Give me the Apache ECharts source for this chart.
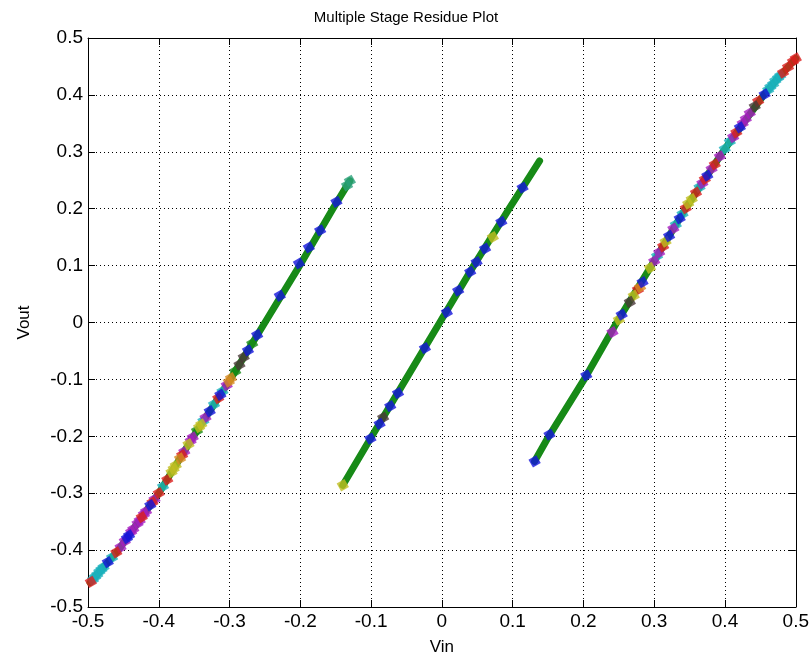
<!DOCTYPE html>
<html>
<head>
<meta charset="utf-8">
<title>Multiple Stage Residue Plot</title>
<script src="https://cdn.jsdelivr.net/npm/echarts@6/dist/echarts.min.js"></script>
<style>
  html, body { margin: 0; padding: 0; background: #fff; }
  #chart { width: 812px; height: 666px; }
</style>
</head>
<body>
<div id="chart"></div>
<script>
// Axis ticks (both axes share the same range)
const vinTicks = [-0.5, -0.4, -0.3, -0.2, -0.1, 0, 0.1, 0.2, 0.3, 0.4, 0.5];
const voutTicks = [-0.5, -0.4, -0.3, -0.2, -0.1, 0, 0.1, 0.2, 0.3, 0.4, 0.5];

// Residue transfer curves, one per comparator region: [Vin, Vout]
const stageLow = [[-0.497, -0.457], [-0.457, -0.400], [-0.400, -0.300], [-0.351, -0.200], [-0.299, -0.100],
  [-0.250, 0.000], [-0.201, 0.100], [-0.154, 0.200], [-0.130, 0.249]];
const stageMid = [[-0.140, -0.286], [-0.099, -0.200], [-0.051, -0.100], [-0.003, 0.000], [0.045, 0.100],
  [0.095, 0.200], [0.138, 0.284]];
const stageHigh = [[0.131, -0.244], [0.151, -0.200], [0.201, -0.100], [0.247, 0.000], [0.296, 0.100],
  [0.344, 0.200], [0.397, 0.300], [0.453, 0.397], [0.478, 0.434], [0.500, 0.464]];

// Individual stage samples, grouped by trace colour: [Vin, Vout]
const samplesBlue = [[-0.472, -0.421], [-0.442, -0.374], [-0.412, -0.321], [-0.328, -0.156], [-0.274, -0.049],
  [-0.261, -0.022], [-0.229, 0.047], [-0.202, 0.104], [-0.188, 0.132], [-0.172, 0.162], [-0.149, 0.212],
  [-0.101, -0.204], [-0.088, -0.178], [-0.073, -0.147], [-0.062, -0.124], [-0.024, -0.045], [0.007, 0.018],
  [0.023, 0.056], [0.040, 0.089], [0.049, 0.106], [0.061, 0.130], [0.084, 0.177], [0.114, 0.237],
  [0.131, -0.244], [0.152, -0.197], [0.204, -0.093], [0.254, 0.014], [0.2835, 0.071], [0.321, 0.152],
  [0.336, 0.183], [0.421, 0.343], [0.456, 0.401], [-0.445, -0.379], [0.375, 0.258], [-0.313, -0.127]];
const samplesRed = [[-0.496, -0.456], [-0.460, -0.404], [-0.424, -0.342], [-0.400, -0.300], [-0.388, -0.276],
  [-0.316, -0.133], [-0.409, -0.316], [-0.367, -0.233], [0.3126, 0.134], [0.3446, 0.201], [0.359, 0.228],
  [0.3715, 0.252], [0.3856, 0.278], [0.4468, 0.389], [0.482, 0.439], [0.489, 0.449], [0.496, 0.459],
  [0.500, 0.464], [0.416, 0.334], [0.277, 0.058]];
const samplesCyan = [[-0.490, -0.447], [-0.484, -0.438], [-0.478, -0.430], [-0.466, -0.413], [-0.493, -0.452],
  [-0.487, -0.443], [-0.481, -0.434], [-0.394, -0.288], [-0.322, -0.144], [-0.310, -0.121],
  [-0.337, -0.173], [0.304, 0.117], [0.3305, 0.172], [0.364, 0.238], [0.3997, 0.305], [0.4068, 0.318],
  [0.461, 0.409], [0.468, 0.419], [0.475, 0.430], [0.464, 0.414], [0.471, 0.425], [0.478, 0.434],
  [0.340, 0.191]];
const samplesMagenta = [[-0.454, -0.395], [-0.448, -0.384], [-0.436, -0.363], [-0.430, -0.353], [-0.418, -0.332],
  [-0.406, -0.311], [-0.439, -0.368], [-0.427, -0.348], [-0.421, -0.337], [-0.364, -0.227], [-0.352, -0.202],
  [-0.334, -0.167], [-0.304, -0.110], [-0.355, -0.208], [0.241, -0.017], [0.300, 0.108], [0.327, 0.165],
  [0.381, 0.270], [0.3927, 0.292], [0.4115, 0.326], [0.4294, 0.358], [0.435, 0.368], [0.425, 0.350],
  [0.368, 0.245], [0.307, 0.123]];
const samplesYellow = [[-0.382, -0.263], [-0.376, -0.251], [-0.358, -0.214], [-0.340, -0.179],
  [-0.379, -0.257], [-0.343, -0.184], [-0.140, -0.286], [0.072, 0.150], [0.250, 0.005], [0.271, 0.047],
  [0.294, 0.096], [0.316, 0.142], [0.348, 0.209], [0.353, 0.217]];
const samplesOrange = [[-0.370, -0.239], [-0.298, -0.098], [-0.301, -0.104], [0.280, 0.062]];
const samplesGreen = [[-0.346, -0.190], [-0.292, -0.086], [-0.268, -0.037]];
const samplesBlack = [[-0.286, -0.074], [-0.280, -0.061], [-0.083, -0.167], [0.2655, 0.036], [0.442, 0.380]];
const samplesTeal = [[-0.134, 0.241], [-0.130, 0.249]];

const FONT = "'Liberation Sans', Arial, Helvetica, sans-serif";
const GREEN = '#178a17';

function curve(data) {
  return {
    type: 'line', data: data, xAxisIndex: 0, yAxisIndex: 0,
    showSymbol: false, smooth: false, silent: true, z: 2,
    lineStyle: { color: GREEN, width: 7, cap: 'round', join: 'round' }
  };
}
function samples(data, color) {
  return {
    type: 'scatter', data: data, xAxisIndex: 0, yAxisIndex: 0,
    symbol: 'rect', symbolSize: 9, symbolRotate: 30, silent: true, z: 3,
    itemStyle: { color: color }
  };
}

const xMin = vinTicks[0], xMax = vinTicks[vinTicks.length - 1];
const yMin = voutTicks[0], yMax = voutTicks[voutTicks.length - 1];
const step = 0.1;

const axisLine = { show: true, onZero: false, lineStyle: { color: '#000', width: 1 } };
const tick = { show: true, inside: true, length: 7, lineStyle: { color: '#000', width: 1 } };
const grid = { show: true, lineStyle: { color: '#000', width: 1, type: [1, 3] } };
const label = { color: '#000', fontFamily: FONT, fontSize: 19 };

const option = {
  backgroundColor: '#fff',
  animation: false,
  title: {
    text: 'Multiple Stage Residue Plot', left: 'center', top: 5,
    textStyle: { color: '#000', fontFamily: FONT, fontSize: 15, fontWeight: 'normal' }
  },
  grid: { left: 88, right: 16, top: 38, bottom: 59, containLabel: false },
  xAxis: [
    { type: 'value', min: xMin, max: xMax, interval: step, position: 'bottom',
      name: 'Vin', nameLocation: 'middle', nameGap: 32,
      nameTextStyle: { color: '#000', fontFamily: FONT, fontSize: 17 },
      axisLine: axisLine, axisTick: tick, splitLine: grid,
      axisLabel: Object.assign({ margin: 5 }, label) },
    { type: 'value', min: xMin, max: xMax, interval: step, position: 'top',
      axisLine: axisLine, axisTick: tick, splitLine: { show: false }, axisLabel: { show: false } }
  ],
  yAxis: [
    { type: 'value', min: yMin, max: yMax, interval: step, position: 'left',
      name: 'Vout', nameLocation: 'middle', nameGap: 55, nameRotate: 90,
      nameTextStyle: { color: '#000', fontFamily: FONT, fontSize: 17 },
      axisLine: axisLine, axisTick: tick, splitLine: grid,
      axisLabel: Object.assign({ margin: 5 }, label) },
    { type: 'value', min: yMin, max: yMax, interval: step, position: 'right',
      axisLine: axisLine, axisTick: tick, splitLine: { show: false }, axisLabel: { show: false } }
  ],
  series: [
    curve(stageLow), curve(stageMid), curve(stageHigh),
    samples(samplesGreen, GREEN),
    samples(samplesTeal, '#2aa07a'),
    samples(samplesCyan, '#1cb2be'),
    samples(samplesMagenta, '#a61cc0'),
    samples(samplesRed, '#dc1e1e'),
    samples(samplesYellow, '#c2be22'),
    samples(samplesOrange, '#d88a22'),
    samples(samplesBlack, '#4a3838'),
    samples(samplesBlue, '#1414dc')
  ]
};

echarts.init(document.getElementById('chart'), null, { renderer: 'canvas' }).setOption(option);
</script>
</body>
</html>
